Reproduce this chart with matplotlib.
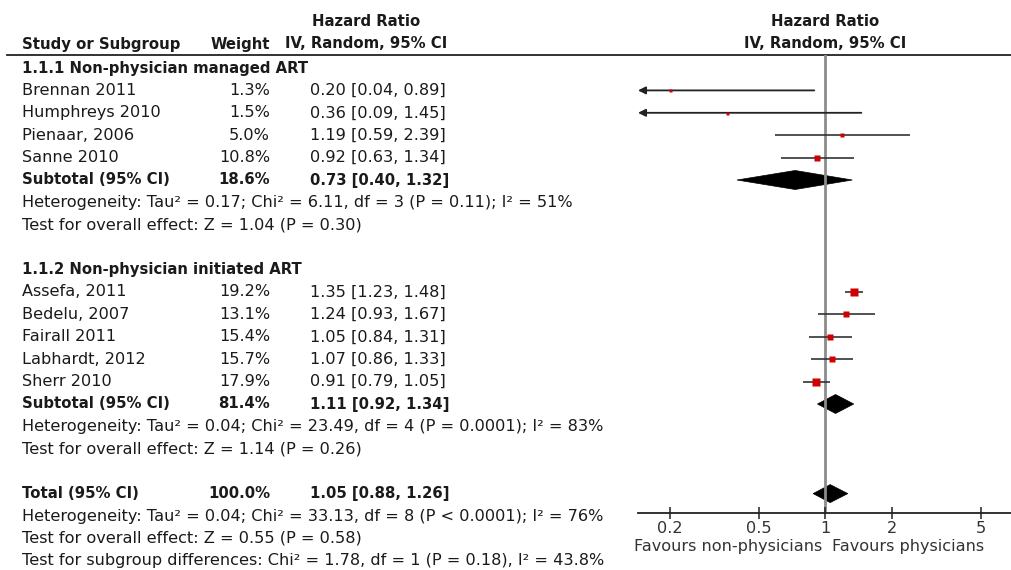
import numpy as np
import matplotlib
matplotlib.use("Agg")
import matplotlib.pyplot as plt
from matplotlib.patches import Polygon

# data
studies_1 = ["Brennan 2011", "Humphreys 2010", "Pienaar, 2006", "Sanne 2010"]
weights_1 = [1.3, 1.5, 5.0, 10.8]
hr_1 = [0.20, 0.36, 1.19, 0.92]
lo_1 = [0.04, 0.09, 0.59, 0.63]
hi_1 = [0.89, 1.45, 2.39, 1.34]

studies_2 = ["Assefa, 2011", "Bedelu, 2007", "Fairall 2011", "Labhardt, 2012", "Sherr 2010"]
weights_2 = [19.2, 13.1, 15.4, 15.7, 17.9]
hr_2 = [1.35, 1.24, 1.05, 1.07, 0.91]
lo_2 = [1.23, 0.93, 0.84, 0.86, 0.79]
hi_2 = [1.48, 1.67, 1.31, 1.33, 1.05]

group_titles = ["1.1.1 Non-physician managed ART", "1.1.2 Non-physician initiated ART"]
sub_weights = [18.6, 81.4]
sub_hr = [0.73, 1.11]
sub_lo = [0.40, 0.92]
sub_hi = [1.32, 1.34]

total_weight = 100.0
total_hr = 1.05
total_lo = 0.88
total_hi = 1.26

het_lines = [
    "Heterogeneity: Tau² = 0.17; Chi² = 6.11, df = 3 (P = 0.11); I² = 51%",
    "Heterogeneity: Tau² = 0.04; Chi² = 23.49, df = 4 (P = 0.0001); I² = 83%",
]
effect_lines = [
    "Test for overall effect: Z = 1.04 (P = 0.30)",
    "Test for overall effect: Z = 1.14 (P = 0.26)",
]
total_lines = [
    "Heterogeneity: Tau² = 0.04; Chi² = 33.13, df = 8 (P < 0.0001); I² = 76%",
    "Test for overall effect: Z = 0.55 (P = 0.58)",
    "Test for subgroup differences: Chi² = 1.78, df = 1 (P = 0.18), I² = 43.8%",
]

xticks = [0.2, 0.5, 1, 2, 5]
fav_left = "Favours non-physicians"
fav_right = "Favours physicians"

W, H = 1012, 570
FS = 11.6      # regular text
FSB = 10.7     # bold text
TXT = "#1a1a1a"
RED = "#d00000"

fig = plt.figure(figsize=(W / 100, H / 100), dpi=100)
fig.patch.set_facecolor("white")

# text layer in pixel coordinates
tx = fig.add_axes([0, 0, 1, 1])
tx.set_xlim(0, W)
tx.set_ylim(H, 0)
tx.axis("off")

# forest layer
top, bottom = 55, 513
ax = fig.add_axes([638 / W, (H - bottom) / H, 374 / W, (bottom - top) / H])
ax.set_facecolor("none")
ax.set_xscale("log")
xmin, xmax = 0.1435, 6.9
ax.set_xlim(xmin, xmax)
ax.set_ylim(bottom, top)

x_name, x_weight, x_hr = 22, 270, 310
y0, step = 68, 22.4


def row_y(i):
    return y0 + step * i


def put(x, y, s, bold=False, ha="left"):
    tx.text(x, y, s, fontsize=FSB if bold else FS, ha=ha, va="center", color=TXT,
            fontweight="bold" if bold else "normal")


def diamond(est, lo, hi, y, h=9.5):
    pts = [(lo, y), (est, y - h), (hi, y), (est, y + h)]
    ax.add_patch(Polygon(pts, closed=True, facecolor="black", edgecolor="black", lw=0.5))


def study_row(name, w, est, lo, hi, y):
    put(x_name, y, name)
    put(x_weight, y, f"{w:.1f}%", ha="right")
    put(x_hr, y, f"{est:.2f} [{lo:.2f}, {hi:.2f}]")
    if lo < xmin:
        ax.annotate("", xy=(xmin, y), xytext=(hi, y),
                    arrowprops=dict(arrowstyle="-|>", color="#222222", lw=1.3,
                                    mutation_scale=11, shrinkA=0, shrinkB=0))
    else:
        ax.plot([lo, hi], [y, y], color="#333333", lw=1.2, solid_capstyle="butt")
    side = max(1.7 * np.sqrt(w), 3.0)
    ax.plot(est, y, "s", ms=side * 0.72, color=RED, mec="none", zorder=5)


# headers
for xc in (366, 825.5):
    tx.text(xc, 22, "Hazard Ratio", fontsize=FSB, ha="center", va="center",
            fontweight="bold", color=TXT)
    tx.text(xc, 44, "IV, Random, 95% CI", fontsize=FSB, ha="center", va="center",
            fontweight="bold", color=TXT)
put(x_name, 44, "Study or Subgroup", bold=True)
put(x_weight, 44, "Weight", bold=True, ha="right")
tx.plot([7, W], [55, 55], color="#222222", lw=1.3)

groups = [
    (studies_1, weights_1, hr_1, lo_1, hi_1),
    (studies_2, weights_2, hr_2, lo_2, hi_2),
]
line = 0
for g, (names, ws, ests, los, his) in enumerate(groups):
    put(x_name, row_y(line), group_titles[g], bold=True)
    line += 1
    for n, w, e, l, h in zip(names, ws, ests, los, his):
        study_row(n, w, e, l, h, row_y(line))
        line += 1
    y = row_y(line)
    put(x_name, y, "Subtotal (95% CI)", bold=True)
    put(x_weight, y, f"{sub_weights[g]:.1f}%", bold=True, ha="right")
    put(x_hr, y, f"{sub_hr[g]:.2f} [{sub_lo[g]:.2f}, {sub_hi[g]:.2f}]", bold=True)
    diamond(sub_hr[g], sub_lo[g], sub_hi[g], y)
    line += 1
    put(x_name, row_y(line), het_lines[g])
    line += 1
    put(x_name, row_y(line), effect_lines[g])
    line += 2

y = row_y(line)
put(x_name, y, "Total (95% CI)", bold=True)
put(x_weight, y, f"{total_weight:.1f}%", bold=True, ha="right")
put(x_hr, y, f"{total_hr:.2f} [{total_lo:.2f}, {total_hi:.2f}]", bold=True)
diamond(total_hr, total_lo, total_hi, y, h=9)
line += 1
for s in total_lines:
    put(x_name, row_y(line), s)
    line += 1

# null line and axis
ax.plot([1, 1], [top, bottom], color="#8c8c8c", lw=2.0, zorder=1)
for side in ["top", "right", "left"]:
    ax.spines[side].set_visible(False)
ax.spines["bottom"].set_color("#222222")
ax.spines["bottom"].set_linewidth(1.3)
ax.set_yticks([])
ax.set_xticks(xticks)
ax.set_xticklabels([f"{t:g}" for t in xticks])
ax.minorticks_off()
ax.tick_params(axis="x", direction="inout", length=9, width=1.1, color="#222222",
               labelsize=FS, labelcolor="#333333", pad=1)

tx.text(822, 547, fav_left, fontsize=FS, ha="right", va="center", color="#333333")
tx.text(832, 547, fav_right, fontsize=FS, ha="left", va="center", color="#333333")

fig.savefig("out.png", dpi=100, facecolor="white")
